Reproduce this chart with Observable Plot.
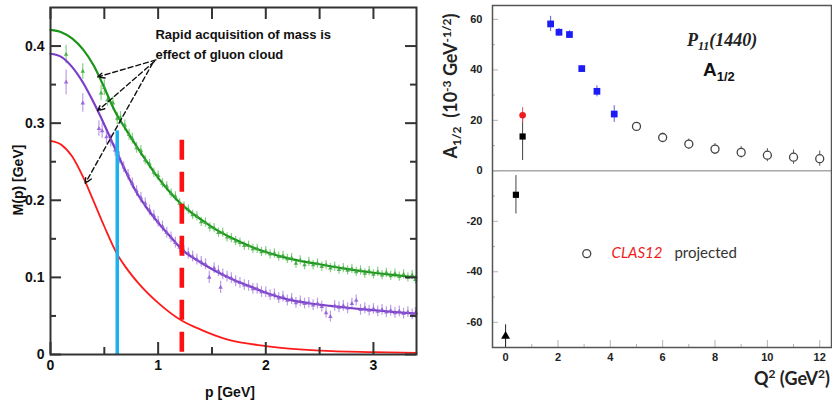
<!DOCTYPE html>
<html><head><meta charset="utf-8">
<script src="https://cdn.jsdelivr.net/npm/d3@7"></script>
<script src="https://cdn.jsdelivr.net/npm/@observablehq/plot@0.6"></script>
<style>
body{margin:0;background:#fff;}
#wrap{position:relative;width:832px;height:407px;overflow:hidden;background:#fff;}
#left,#right{position:absolute;top:0;}
#left{left:0}
#right{left:432px}
.lbl{position:absolute;white-space:nowrap;line-height:1;color:#111;}
.lbl sub,.lbl sup{line-height:0;}
</style></head><body>
<div id="wrap">
  <div id="left"></div>
  <div id="right"></div>
  <div class="lbl" style="left:18px;top:180px;transform:translate(-50%,-50%) rotate(-90deg);font:bold 14px 'Liberation Sans',Arial,sans-serif;">M(p) [GeV]</div>
  <div class="lbl" style="left:230px;top:392px;transform:translate(-50%,-50%);font:bold 14px 'Liberation Sans',Arial,sans-serif;">p [GeV]</div>
  <div class="lbl" style="left:450px;top:86px;transform:translate(-50%,-50%) rotate(-90deg);font:bold 18px Lato,'Open Sans',sans-serif;color:#222;">A<sub style="font-size:12px;vertical-align:-4px">1/2</sub>&nbsp;&nbsp;(10<sup style="font-size:12px;vertical-align:6px">-3</sup> GeV<sup style="font-size:12px;vertical-align:6px">-1/2</sup>)</div>
  <div class="lbl" style="right:2px;top:378px;transform:translate(0,-50%);font:bold 18px Lato,'Open Sans',sans-serif;color:#222;">Q<sup style="font-size:12px;vertical-align:7px">2</sup> (GeV<sup style="font-size:12px;vertical-align:7px">2</sup>)</div>
  <div class="lbl" style="left:687px;top:40px;transform:translate(0,-50%);font:italic bold 18px 'Liberation Serif','Times New Roman',serif;color:#222;">P<sub style="font-size:12px;vertical-align:-4px">11</sub>(1440)</div>
  <div class="lbl" style="left:703px;top:70px;transform:translate(0,-50%);font:bold 19px 'Liberation Sans',Arial,sans-serif;color:#111;">A<sub style="font-size:13px;vertical-align:-5px">1/2</sub></div>
</div>
<script>
// ---------- Left panel data: M(p) curves ----------
const greenCurveP = [0,0.1,0.2,0.3,0.4,0.5,0.6,0.7,0.8,0.9,1.0,1.1,1.2,1.3,1.4,1.55,1.7,1.86,2.0,2.2,2.5,2.75,3.0,3.2,3.4];
const greenCurveM = [0.421,0.418,0.410,0.396,0.375,0.346,0.315,0.292,0.270,0.249,0.229,0.212,0.197,0.185,0.175,0.161,0.150,0.140,0.133,0.125,0.117,0.111,0.106,0.103,0.100];
const purpleCurveP = [0,0.1,0.2,0.3,0.4,0.5,0.6,0.7,0.8,0.9,1.0,1.1,1.23,1.4,1.55,1.7,1.86,2.0,2.2,2.4,2.6,2.8,3.0,3.2,3.4];
const purpleCurveM = [0.390,0.386,0.373,0.353,0.327,0.298,0.267,0.237,0.210,0.189,0.171,0.155,0.135,0.119,0.107,0.097,0.088,0.080,0.0715,0.0665,0.063,0.060,0.0575,0.055,0.053];
const redCurveP = [0,0.1,0.2,0.3,0.4,0.5,0.62,0.7,0.82,1.0,1.23,1.4,1.63,2.0,2.5,3.0,3.4];
const redCurveM = [0.277,0.272,0.257,0.231,0.199,0.166,0.130,0.113,0.092,0.067,0.043,0.032,0.020,0.011,0.005,0.003,0.002];

// lattice points [p, M, error]
const greenPts = [
[0.145,0.389,0.012],[0.30,0.367,0.010],[0.47,0.339,0.010],[0.50,0.346,0.010],[0.53,0.330,0.008],[0.58,0.326,0.008],
[0.62,0.306,0.008],[0.65,0.307,0.008],[0.69,0.297,0.007],[0.73,0.285,0.007],[0.76,0.280,0.007],[0.80,0.268,0.007],
[0.84,0.264,0.007],[0.88,0.252,0.006],[0.92,0.247,0.006],[0.96,0.236,0.006],[1.00,0.232,0.006],[1.04,0.222,0.006],
[1.08,0.218,0.006],[1.12,0.209,0.006],[1.16,0.205,0.006],[1.20,0.196,0.006],[1.24,0.192,0.006],[1.28,0.188,0.006],
[1.32,0.181,0.006],[1.36,0.179,0.006],[1.40,0.172,0.006],[1.44,0.171,0.006],[1.48,0.165,0.006],[1.52,0.164,0.006],
[1.56,0.158,0.006],[1.60,0.158,0.006],[1.64,0.152,0.006],[1.68,0.151,0.006],[1.72,0.147,0.006],[1.76,0.145,0.006],
[1.80,0.141,0.006],[1.84,0.141,0.006],[1.88,0.137,0.006],[1.92,0.137,0.006],[1.96,0.133,0.006],[2.00,0.134,0.006],
[2.04,0.130,0.006],[2.08,0.131,0.006],[2.12,0.127,0.006],[2.16,0.128,0.006],[2.20,0.124,0.006],[2.24,0.125,0.006],
[2.28,0.118,0.006],[2.32,0.122,0.006],[2.36,0.116,0.006],[2.40,0.120,0.006],[2.44,0.116,0.006],[2.48,0.118,0.006],
[2.52,0.114,0.006],[2.56,0.116,0.006],[2.60,0.112,0.006],[2.64,0.114,0.006],[2.68,0.110,0.006],[2.72,0.112,0.006],
[2.76,0.109,0.006],[2.80,0.111,0.006],[2.84,0.107,0.006],[2.88,0.109,0.006],[2.92,0.105,0.006],[2.96,0.108,0.006],
[3.00,0.104,0.006],[3.04,0.107,0.006],[3.08,0.103,0.006],[3.12,0.106,0.006],[3.16,0.102,0.006],[3.20,0.105,0.006],
[3.24,0.101,0.006],[3.28,0.104,0.006],[3.32,0.100,0.006],[3.36,0.103,0.006],[3.39,0.097,0.006]
];
const purplePts = [
[0.145,0.353,0.016],[0.30,0.326,0.012],[0.45,0.293,0.010],[0.48,0.290,0.010],[0.52,0.282,0.009],[0.56,0.277,0.008],
[0.60,0.265,0.008],[0.64,0.255,0.008],[0.68,0.243,0.007],[0.72,0.233,0.007],[0.76,0.222,0.007],[0.80,0.212,0.007],
[0.84,0.203,0.007],[0.88,0.196,0.007],[0.92,0.187,0.007],[0.96,0.180,0.007],[1.00,0.172,0.007],[1.04,0.166,0.007],
[1.08,0.158,0.007],[1.12,0.152,0.007],[1.16,0.145,0.007],[1.20,0.139,0.007],[1.24,0.134,0.007],[1.28,0.131,0.007],
[1.32,0.127,0.007],[1.36,0.123,0.007],[1.40,0.120,0.007],[1.44,0.117,0.007],[1.475,0.100,0.008],[1.52,0.112,0.007],
[1.58,0.087,0.008],[1.56,0.108,0.007],[1.60,0.104,0.007],[1.64,0.101,0.007],[1.68,0.099,0.007],[1.72,0.095,0.007],
[1.76,0.093,0.007],[1.80,0.090,0.007],[1.84,0.089,0.007],[1.88,0.085,0.007],[1.92,0.085,0.007],[1.96,0.081,0.007],
[2.00,0.081,0.007],[2.04,0.077,0.007],[2.08,0.078,0.007],[2.12,0.073,0.007],[2.16,0.075,0.007],[2.20,0.070,0.007],
[2.24,0.072,0.007],[2.28,0.067,0.007],[2.32,0.069,0.007],[2.36,0.066,0.007],[2.40,0.067,0.007],[2.44,0.064,0.007],
[2.48,0.066,0.007],[2.52,0.062,0.007],[2.56,0.054,0.007],[2.60,0.049,0.007],[2.64,0.063,0.007],[2.68,0.061,0.007],
[2.72,0.063,0.007],[2.76,0.060,0.007],[2.80,0.066,0.007],[2.84,0.070,0.007],[2.88,0.058,0.007],[2.92,0.060,0.007],
[2.96,0.057,0.007],[3.00,0.059,0.007],[3.04,0.056,0.007],[3.08,0.058,0.007],[3.12,0.055,0.007],[3.16,0.057,0.007],
[3.20,0.054,0.007],[3.24,0.056,0.007],[3.28,0.053,0.007],[3.32,0.055,0.007],[3.36,0.052,0.007],[3.39,0.054,0.007]
];

// vertical markers
const vlineP = [0.62, 1.22];
const vlineTop = [0.290, 0.278];

// annotation
const noteLines = ["Rapid acquisition of mass is", "effect of gluon cloud"];
const noteP = [0.975, 0.975];
const noteM = [0.415, 0.389];
const arrowFromP = [0.98, 0.965, 0.95];
const arrowFromM = [0.382, 0.380, 0.378];
const arrowToP = [0.438, 0.438, 0.323];
const arrowToM = [0.360, 0.316, 0.222];

// ticks (left)
const leftXTicks = [0, 1, 2, 3];
const leftXMinor = [0.5, 1.5, 2.5];
const leftYTicks = [0, 0.1, 0.2, 0.3, 0.4];
const leftYMinor = [0.05, 0.15, 0.25, 0.35];

// ---------- Right panel data: A1/2 vs Q^2 ----------
const blueQ = [1.72, 2.04, 2.44, 2.91, 3.49, 4.15];
const blueA = [58.2, 54.9, 54.0, 40.5, 31.5, 22.5];
const blueErr = [3.0, 1.5, 1.5, 1.2, 2.2, 3.3];
const blackSqQ = [0.65, 0.395];
const blackSqA = [13.6, -9.5];
const blackSqErr = [9.5, 7.6];
const redCircQ = [0.65];
const redCircA = [22.0];
const redCircErr = [3.0];
const triQ = [0];
const triA = [-65.5];
const triErr = [4.5];
const clasQ = [5, 6, 7, 8, 9, 10, 11, 12];
const clasA = [17.6, 13.2, 10.6, 8.6, 7.3, 6.2, 5.4, 4.8];
const clasErr = [1.5, 1.7, 2.0, 2.2, 2.3, 2.6, 2.8, 3.0];
const legendQ = [3.1];
const legendA = [-32.8];
const legendTextQ = [4.05, 6.45];
const legendText = ["CLAS12", "projected"];

const rightXTicks = [0, 2, 4, 6, 8, 10, 12];
const rightXMinor = [1, 3, 5, 7, 9, 11];
const rightYTicks = [-60, -40, -20, 0, 20, 40, 60];
const rightYMinor = [-70, -50, -30, -10, 10, 30, 50];

// ---------- build left ----------
const sans = "'Liberation Sans', Arial, sans-serif";
const W1 = 425, H1 = 407, mL1 = 50, mR1 = 9, mT1 = 7, mB1 = 53;
const iw1 = W1 - mL1 - mR1, ih1 = H1 - mT1 - mB1;
const zip = (a, b) => a.map((v, i) => ({x: v, y: b[i], i}));
const tickCol = "#333";

const leftPlot = Plot.plot({
  width: W1, height: H1, marginLeft: mL1, marginRight: mR1, marginTop: mT1, marginBottom: mB1,
  x: {domain: [0, 3.4]},
  y: {domain: [0, 0.45]},
  style: {fontFamily: sans, fontSize: "14px", fontWeight: "bold", background: "transparent", color: "#111"},
  marks: [
    Plot.ruleX(greenPts, {x: d => d[0], y1: d => d[1] - d[2], y2: d => d[1] + d[2], stroke: "#5cbf5c", strokeOpacity: 0.75, strokeWidth: 1.2}),
    Plot.ruleX(purplePts, {x: d => d[0], y1: d => d[1] - d[2], y2: d => d[1] + d[2], stroke: "#a57ee0", strokeOpacity: 0.75, strokeWidth: 1.2}),
    Plot.line(zip(redCurveP, redCurveM), {x: "x", y: "y", stroke: "#ff1a1a", strokeWidth: 1.8, curve: "monotone-x"}),
    Plot.line(zip(greenCurveP, greenCurveM), {x: "x", y: "y", stroke: "#1a941a", strokeWidth: 2.2, curve: "monotone-x"}),
    Plot.line(zip(purpleCurveP, purpleCurveM), {x: "x", y: "y", stroke: "#7a3fc8", strokeWidth: 2.2, curve: "monotone-x"}),
    Plot.dot(greenPts, {x: d => d[0], y: d => d[1], symbol: "triangle", r: 1.7, fill: "#3aa83a", fillOpacity: 0.85}),
    Plot.dot(purplePts, {x: d => d[0], y: d => d[1], symbol: "triangle", r: 1.7, fill: "#8d5ad6", fillOpacity: 0.85}),
    Plot.ruleX([0], {x: () => vlineP[0], y1: () => vlineTop[0], y2: 0, stroke: "#1bb3ee", strokeWidth: 3.5}),
    Plot.ruleX([1], {x: () => vlineP[1], y1: () => vlineTop[1], y2: 0, stroke: "#ff1010", strokeWidth: 4.6, strokeDasharray: "20,12"}),
    Plot.arrow(arrowFromP.map((p, i) => i), {
      x1: i => arrowFromP[i], y1: i => arrowFromM[i], x2: i => arrowToP[i], y2: i => arrowToM[i],
      stroke: "#111", strokeWidth: 1.4, strokeDasharray: "5,3", headLength: 8, headAngle: 50
    }),
    Plot.text(noteLines, {x: (d, i) => noteP[i], y: (d, i) => noteM[i], text: d => d, textAnchor: "start", fontSize: 13, fontWeight: "bold", fill: "#111", fontFamily: sans}),
    // inner ticks
    Plot.ruleX(leftXTicks, {x: d => d, insetTop: ih1 - 12, stroke: tickCol, strokeWidth: 2}),
    Plot.ruleX(leftXMinor, {x: d => d, insetTop: ih1 - 7, stroke: tickCol, strokeWidth: 2}),
    Plot.ruleX(leftXTicks.concat(leftXMinor), {x: d => d, insetBottom: ih1 - 12, stroke: tickCol, strokeWidth: 2}),
    Plot.ruleY(leftYTicks, {y: d => d, insetRight: iw1 - 11, stroke: tickCol, strokeWidth: 2}),
    Plot.ruleY(leftYMinor, {y: d => d, insetRight: iw1 - 6, stroke: tickCol, strokeWidth: 2}),
    Plot.ruleY(leftYTicks, {y: d => d, insetLeft: iw1 - 11, stroke: tickCol, strokeWidth: 2}),
    Plot.ruleY(leftYMinor, {y: d => d, insetLeft: iw1 - 6, stroke: tickCol, strokeWidth: 2}),
    Plot.frame({stroke: "#333", strokeWidth: 2}),
    Plot.axisX({ticks: leftXTicks, tickSize: 0, tickPadding: 6, label: null, tickFormat: d => String(d)}),
    Plot.axisY({ticks: leftYTicks, tickSize: 0, tickPadding: 6, label: null, tickFormat: d => d === 0 ? "0" : d3.format(".1f")(d)})
  ]
});
document.getElementById("left").appendChild(leftPlot);

// ---------- build right ----------
const W2 = 400, H2 = 407, mL2 = 60, mR2 = 1, mT2 = 5, mB2 = 60;
const iw2 = W2 - mL2 - mR2, ih2 = H2 - mT2 - mB2;
const rTick = "#b4b4b4";
const pts = (q, a, e) => q.map((v, i) => ({q: v, a: a[i], e: e ? e[i] : 0}));

const rightPlot = Plot.plot({
  width: W2, height: H2, marginLeft: mL2, marginRight: mR2, marginTop: mT2, marginBottom: mB2,
  x: {domain: [-0.5, 12.45]},
  y: {domain: [-70, 65.5]},
  style: {fontFamily: sans, fontSize: "11px", fontWeight: "bold", background: "transparent", color: "#222"},
  marks: [
    Plot.ruleY([0], {stroke: "#a8a8a8", strokeWidth: 1.5}),
    // inner ticks
    Plot.ruleY(rightYTicks, {y: d => d, insetRight: iw2 - 6, stroke: rTick, strokeWidth: 1}),
    Plot.ruleY(rightYMinor, {y: d => d, insetRight: iw2 - 3, stroke: rTick, strokeWidth: 1}),
    Plot.ruleX(rightXTicks, {x: d => d, insetTop: ih2 - 7, stroke: rTick, strokeWidth: 1}),
    Plot.ruleX(rightXMinor, {x: d => d, insetTop: ih2 - 3, stroke: rTick, strokeWidth: 1}),
    // error bars
    Plot.ruleX(pts(blueQ, blueA, blueErr), {x: "q", y1: d => d.a - d.e, y2: d => d.a + d.e, stroke: "#5a5ae0", strokeWidth: 1}),
    Plot.ruleX(pts(blackSqQ, blackSqA, blackSqErr), {x: "q", y1: d => d.a - d.e, y2: d => d.a + d.e, stroke: "#444", strokeWidth: 1}),
    Plot.ruleX(pts(redCircQ, redCircA, redCircErr), {x: "q", y1: d => d.a - d.e, y2: d => d.a + d.e, stroke: "#e05050", strokeWidth: 1}),
    Plot.ruleX(pts(triQ, triA, triErr), {x: "q", y1: d => Math.max(-70, d.a - d.e), y2: d => d.a + d.e, stroke: "#222", strokeWidth: 1}),
    Plot.ruleX(pts(clasQ, clasA, clasErr), {x: "q", y1: d => d.a - d.e, y2: d => d.a + d.e, stroke: "#555", strokeWidth: 1}),
    // markers
    Plot.dot(pts(redCircQ, redCircA), {x: "q", y: "a", r: 3.3, fill: "#ee1c1c", stroke: "none"}),
    Plot.dot(pts(blackSqQ, blackSqA), {x: "q", y: "a", symbol: "square", r: 3.5, fill: "#000", stroke: "none"}),
    Plot.dot(pts(blueQ, blueA), {x: "q", y: "a", symbol: "square", r: 3.8, fill: "#1c1cf5", stroke: "none"}),
    Plot.dot(pts(triQ, triA), {x: "q", y: "a", symbol: "triangle", r: 3.3, fill: "#000", stroke: "none"}),
    Plot.dot(pts(clasQ, clasA), {x: "q", y: "a", r: 4, fill: "#fff", stroke: "#444", strokeWidth: 1.3}),
    // legend
    Plot.dot(pts(legendQ, legendA), {x: "q", y: "a", r: 4, fill: "#fff", stroke: "#444", strokeWidth: 1.3}),
    Plot.text([0], {x: () => legendTextQ[0], y: () => legendA[0], text: () => legendText[0], textAnchor: "start", fontSize: 15, fontWeight: "normal", fontStyle: "italic", fill: "#ee1c1c", fontFamily: "Lato, 'Open Sans', sans-serif"}),
    Plot.text([1], {x: () => legendTextQ[1], y: () => legendA[0], text: () => legendText[1], textAnchor: "start", fontSize: 15, fontWeight: "normal", fill: "#333", fontFamily: "Lato, 'Open Sans', sans-serif"}),
    Plot.frame({stroke: "#555", strokeWidth: 1.5}),
    Plot.axisX({ticks: rightXTicks, tickSize: 0, tickPadding: 6, label: null, tickFormat: d => String(d)}),
    Plot.axisY({ticks: rightYTicks, tickSize: 0, tickPadding: 10, label: null, tickFormat: d => String(d)})
  ]
});
document.getElementById("right").appendChild(rightPlot);
</script>
</body></html>
